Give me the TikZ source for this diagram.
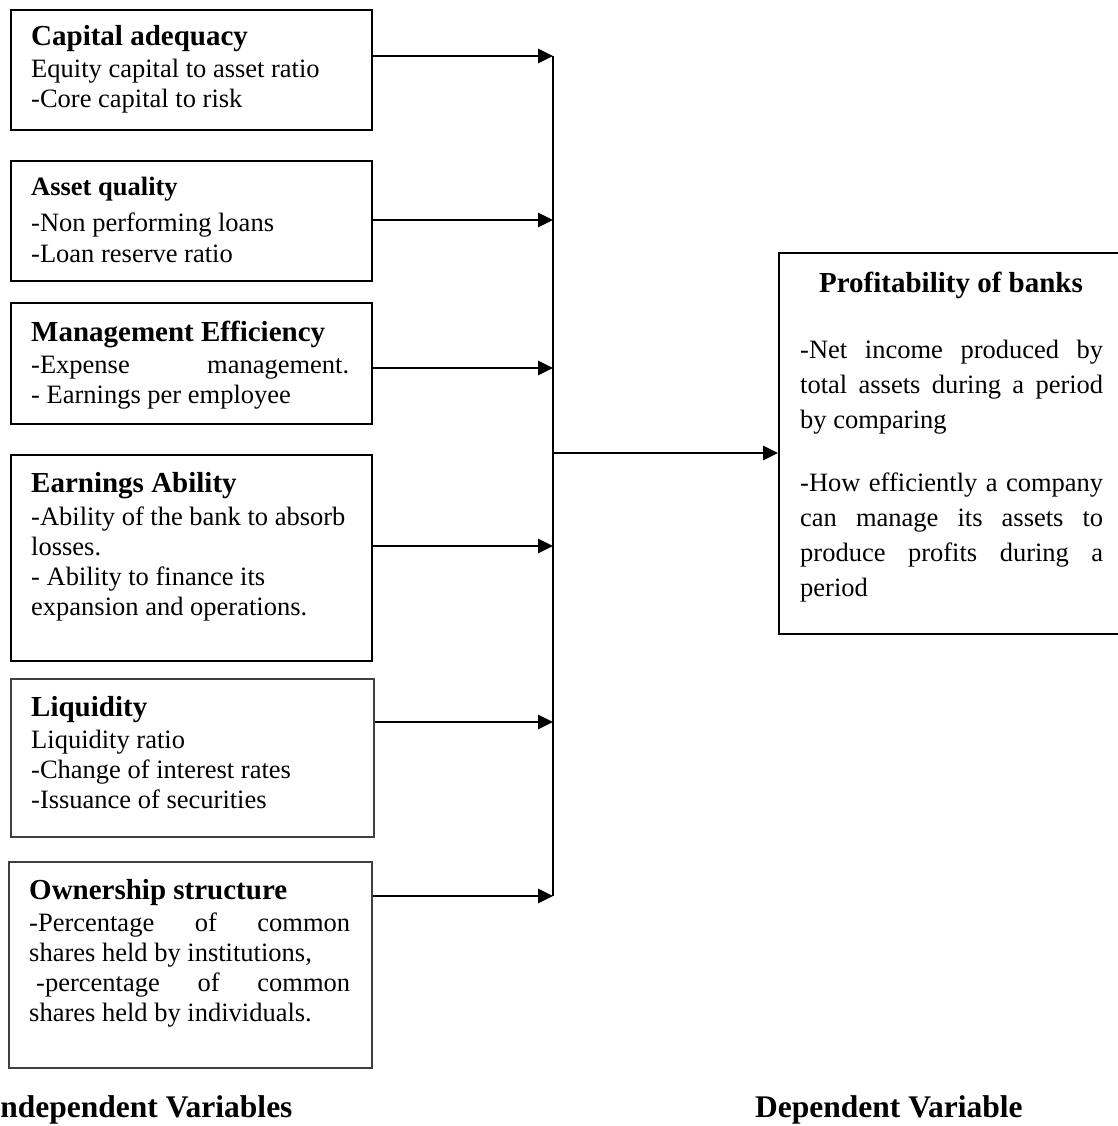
\documentclass[tikz,border=0pt]{standalone}
\usepackage{fontspec}
\setmainfont{Liberation Serif}
\usetikzlibrary{arrows.meta}
\begin{document}
\begin{tikzpicture}[x=1pt,y=-1pt,
  box/.style={draw=black,line width=2.2pt,rectangle,inner sep=0pt,anchor=north west},
  greybox/.style={box,draw=black!75,line width=1.8pt},
  flow/.style={line width=2.8pt,-{Triangle[length=15pt,width=14pt]}},
  trunk/.style={line width=2.8pt},
  body/.style={anchor=base west,inner sep=0pt,font=\fontsize{26.5}{30}\selectfont},
  head/.style={anchor=base west,inner sep=0pt,font=\bfseries\fontsize{29}{33}\selectfont},
  headsm/.style={anchor=base west,inner sep=0pt,font=\bfseries\fontsize{26.5}{30}\selectfont},
  caption/.style={anchor=base west,inner sep=0pt,font=\bfseries\fontsize{31.5}{36}\selectfont}]
\useasboundingbox (0,0) rectangle (1117,1126);

% boxes
\node[box,minimum width=361pt,minimum height=120pt] (b1) at (10,9) {};
\node[box,minimum width=361pt,minimum height=120pt] (b2) at (10,160) {};
\node[box,minimum width=361pt,minimum height=121pt] (b3) at (10,302) {};
\node[box,minimum width=361pt,minimum height=206pt] (b4) at (10,454) {};
\node[greybox,minimum width=363pt,minimum height=158pt] (b5) at (10,678) {};
\node[greybox,minimum width=363pt,minimum height=206pt] (b6) at (8,861) {};
\node[box,minimum width=360pt,minimum height=381pt] (dep) at (778,252) {};

% box texts
\node[head] (h1) at (31,46) {Capital adequacy};
\node[body] (l1a) at (31,78) {Equity capital to asset ratio};
\node[body] (l1b) at (31,108) {-Core capital to risk};

\node[headsm] (h2) at (31,196) {Asset quality};
\node[body] (l2a) at (31,231) {-Non performing loans};
\node[body] (l2b) at (31,262) {-Loan reserve ratio};

\node[head] (h3) at (31,341) {Management Efficiency};
\node[body] (l3a) at (31,373) {\makebox[318pt][s]{-Expense management.}};
\node[body] (l3b) at (31,403) {- Earnings per employee};

\node[head] (h4) at (31,492) {Earnings Ability};
\node[body] (l4a) at (31,525) {-Ability of the bank to absorb};
\node[body] (l4b) at (31,555) {losses.};
\node[body] (l4c) at (31,585) {- Ability to finance its};
\node[body] (l4d) at (31,615) {expansion and operations.};

\node[head] (h5) at (31,716) {Liquidity};
\node[body] (l5a) at (31,748) {Liquidity ratio};
\node[body] (l5b) at (31,778) {-Change of interest rates};
\node[body] (l5c) at (31,808) {-Issuance of securities};

\node[head] (h6) at (29,899) {Ownership structure};
\node[body] (l6a) at (29,931) {\makebox[321pt][s]{-Percentage of common}};
\node[body] (l6b) at (29,961) {shares held by institutions,};
\node[body] (l6c) at (36,991) {\makebox[314pt][s]{-percentage of common}};
\node[body] (l6d) at (29,1021) {shares held by individuals.};

% dependent box text
\node[head,anchor=base] (hd) at (951,292) {Profitability of banks};
\node[body] (r1) at (800,358) {\makebox[303pt][s]{-Net income produced by}};
\node[body] (r2) at (800,393) {\makebox[303pt][s]{total assets during a period}};
\node[body] (r3) at (800,428) {by comparing};
\node[body] (r4) at (800,491) {\makebox[303pt][s]{-How efficiently a company}};
\node[body] (r5) at (800,526) {\makebox[303pt][s]{can manage its assets to}};
\node[body] (r6) at (800,561) {\makebox[303pt][s]{produce profits during a}};
\node[body] (r7) at (800,596) {period};

% captions
\node[caption] (ci) at (-12,1117) {Independent Variables};
\node[caption] (cd) at (755,1117) {Dependent Variable};

% junctions
\coordinate (j1) at (553,56);
\coordinate (j2) at (553,220);
\coordinate (j3) at (553,368);
\coordinate (j4) at (553,546);
\coordinate (j5) at (553,722);
\coordinate (j6) at (553,896);
\coordinate (jc) at (553,453);

% connectors
\draw[trunk] (j1) -- (j6);
\draw[flow] (b1.east |- j1) -- (j1);
\draw[flow] (b2.east |- j2) -- (j2);
\draw[flow] (b3.east |- j3) -- (j3);
\draw[flow] (b4.east |- j4) -- (j4);
\draw[flow] (b5.east |- j5) -- (j5);
\draw[flow] (b6.east |- j6) -- (j6);
\draw[flow] (jc) -- (dep.west |- jc);
\end{tikzpicture}
\end{document}
